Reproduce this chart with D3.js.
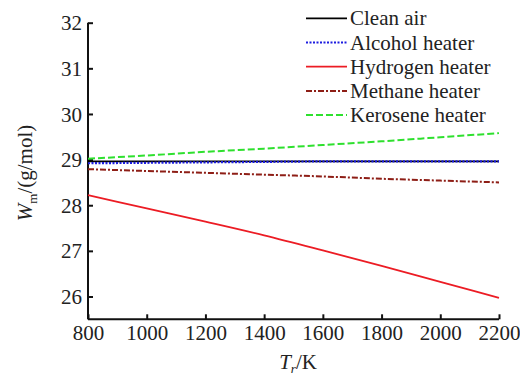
<!DOCTYPE html>
<html>
<head>
<meta charset="utf-8">
<script src="https://cdn.jsdelivr.net/npm/d3@7/dist/d3.min.js"></script>
<style>
  html, body { margin: 0; padding: 0; background: #fff; }
  svg text { font-family: "Liberation Serif", "Times New Roman", serif; fill: #222; }
</style>
</head>
<body>
<svg id="chart" width="520" height="380"></svg>
<script>
// Temperature grid (K)
const temps = [800, 1000, 1200, 1400, 1600, 1800, 2000, 2200];

// Mean molar mass W_m (g/mol) per heater type
const cleanAir  = [28.96, 28.96, 28.96, 28.96, 28.96, 28.96, 28.96, 28.96];
const alcohol   = [28.92, 28.93, 28.94, 28.95, 28.96, 28.96, 28.96, 28.96];
const hydrogen  = [28.22, 27.93, 27.64, 27.34, 27.01, 26.67, 26.32, 25.97];
const methane   = [28.79, 28.75, 28.71, 28.67, 28.63, 28.58, 28.54, 28.50];
const kerosene  = [29.02, 29.09, 29.17, 29.24, 29.32, 29.40, 29.49, 29.58];

const seriesNames = ["Clean air", "Alcohol heater", "Hydrogen heater", "Methane heater", "Kerosene heater"];

const xTicks = [800, 1000, 1200, 1400, 1600, 1800, 2000, 2200];
const yTicks = [26, 27, 28, 29, 30, 31, 32];

const series = [
  { name: seriesNames[0], values: cleanAir, color: "#000000", dash: null,        width: 1.8 },
  { name: seriesNames[1], values: alcohol,  color: "#1c1ce0", dash: "2,1.5",     width: 2.2 },
  { name: seriesNames[2], values: hydrogen, color: "#ec1c24", dash: null,        width: 1.8 },
  { name: seriesNames[3], values: methane,  color: "#8e1e16", dash: "6,2,2,2",   width: 2.0 },
  { name: seriesNames[4], values: kerosene, color: "#2ee02e", dash: "7,3",       width: 2.0 }
];

const svg = d3.select("#chart");
const plotLeft = 88, plotRight = 499, plotTop = 22.7, plotBottom = 319.3;

const x = d3.scaleLinear().domain([800, 2200]).range([plotLeft, plotRight]);
const y = d3.scaleLinear().domain([25.5, 32]).range([plotBottom, plotTop]);

// Axes with inward ticks
const xAxis = d3.axisBottom(x).tickValues(xTicks).tickSize(-5).tickPadding(6).tickFormat(d3.format("d"));
const yAxis = d3.axisLeft(y).tickValues(yTicks).tickSize(-5).tickPadding(6).tickFormat(d3.format("d"));

const gx = svg.append("g").attr("transform", `translate(0,${plotBottom})`).call(xAxis);
const gy = svg.append("g").attr("transform", `translate(${plotLeft},0)`).call(yAxis);

[gx, gy].forEach(g => {
  g.attr("font-family", null);
  g.select(".domain").attr("stroke", "#111").attr("stroke-width", 2);
  g.selectAll(".tick line").attr("stroke", "#111").attr("stroke-width", 2);
  g.selectAll(".tick text")
    .style("font-family", '"Liberation Serif", serif')
    .style("font-size", "21px")
    .attr("fill", "#333");
});
gy.select(".domain").attr("d", `M0,${plotBottom}V${plotTop}`);
gx.select(".domain").attr("d", `M${plotLeft},0H${plotRight}`);
gy.selectAll(".tick text").attr("dy", "0.34em");
gx.selectAll(".tick text").attr("dy", "0.71em");

// Data lines
const line = d3.line()
  .x((d, i) => x(temps[i]))
  .y(d => y(d))
  .curve(d3.curveMonotoneX);

svg.append("g").selectAll("path")
  .data(series)
  .join("path")
  .attr("d", d => line(d.values))
  .attr("fill", "none")
  .attr("stroke", d => d.color)
  .attr("stroke-width", d => d.width)
  .attr("stroke-dasharray", d => d.dash);

// Legend
const legend = svg.append("g");
series.forEach((s, i) => {
  const ly = 18.3 + i * 24.2;
  legend.append("line")
    .attr("x1", 306).attr("x2", 347)
    .attr("y1", ly).attr("y2", ly)
    .attr("stroke", s.color)
    .attr("stroke-width", s.width)
    .attr("stroke-dasharray", s.dash);
  legend.append("text")
    .attr("x", 350).attr("y", ly)
    .attr("dy", "0.34em")
    .style("font-family", '"Liberation Serif", serif')
    .style("font-size", "21px")
    .text(s.name);
});

// Axis titles
const yt = svg.append("text")
  .attr("transform", "translate(32,173) rotate(-90)")
  .attr("text-anchor", "middle")
  .style("font-family", '"Liberation Serif", serif')
  .style("font-size", "21px");
yt.append("tspan").style("font-style", "italic").text("W");
yt.append("tspan").attr("dy", 5).style("font-size", "13px").text("m");
yt.append("tspan").attr("dy", -5).text("/(g/mol)");

const xt = svg.append("text")
  .attr("x", 298).attr("y", 369)
  .attr("text-anchor", "middle")
  .style("font-family", '"Liberation Serif", serif')
  .style("font-size", "21px");
xt.append("tspan").style("font-style", "italic").text("T");
xt.append("tspan").attr("dy", 4).style("font-size", "13px").style("font-style", "italic").text("r");
xt.append("tspan").attr("dy", -4).text("/K");
</script>
</body>
</html>
